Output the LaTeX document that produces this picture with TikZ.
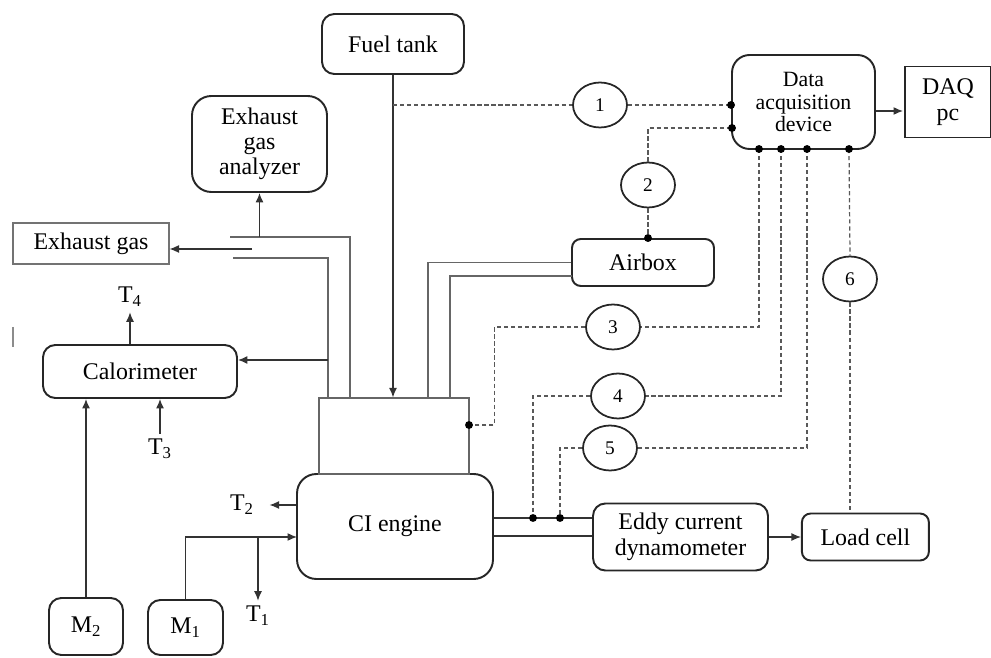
\documentclass[tikz,border=0pt]{standalone}
\usepackage{fontspec}
\setmainfont{Liberation Serif}
\usepackage{tikz}
\usetikzlibrary{arrows.meta,positioning,shapes.geometric}

\begin{document}
\begin{tikzpicture}[
    x=0.02cm, y=-0.02cm,
    node distance=5mm,
    device/.style={
        % The shape:
        rectangle,
        rounded corners=7pt,
        inner sep=0pt,
        align=center,
        % The line
        draw=black!85,
        line width=1.1pt,
        % The fonts
        font=\fontsize{13.6}{14.6}\selectfont},
    sensor/.style={
        ellipse,
        minimum width=1.08cm,
        minimum height=0.9cm,
        inner sep=0pt,
        draw=black!85,
        line width=1pt,
        font=\fontsize{11}{12}\selectfont},
    tlabel/.style={inner sep=3pt, font=\fontsize{13.6}{14}\selectfont},
    pipe/.style={draw=black!60, line width=0.7pt},
    arr/.style={draw=black!80, line width=0.7pt, -{Latex[length=1.9mm,width=1.6mm]}},
    sig/.style={draw=black!65, line width=0.7pt, dash pattern=on 2.4pt off 1.6pt},
    joint/.style={circle, fill=black, inner sep=0pt, minimum size=4.5pt}
  ]
  \useasboundingbox (0,0) rectangle (991,658);

  \node (fuel) [device, minimum width=2.84cm, minimum height=1.2cm] at (393,44) {Fuel tank};
  \node (analyzer) [device, rounded corners=11pt, minimum width=2.7cm, minimum height=1.92cm,
    font=\fontsize{13.6}{14.2}\selectfont] at (259.5,144) {Exhaust\\gas\\analyzer};
  \node (exgas) [device, rounded corners=0pt, draw=black!55, line width=0.6pt,
    minimum width=3.12cm, minimum height=0.82cm] at (91,243.5) {Exhaust gas};
  \node (calor) [device, minimum width=3.88cm, minimum height=1.06cm] at (140,371.5) {Calorimeter};
  \node (m2) [device, minimum width=1.48cm, minimum height=1.14cm] at (86,626.5) {M\textsubscript{2}};
  \node (m1) [device, minimum width=1.5cm, minimum height=1.1cm] at (185.5,627.5) {M\textsubscript{1}};
  \node (engine) [device, rounded corners=11pt, minimum width=3.92cm, minimum height=2.1cm] at (395,526.5) {CI engine};
  \node (head) [pipe, rectangle, inner sep=0pt, minimum width=3cm, minimum height=1.52cm] at (394,436) {};
  \node (airbox) [device, rounded corners=5pt, minimum width=2.84cm, minimum height=0.94cm] at (643,262.5) {Airbox};
  \node (daq) [device, rounded corners=10pt, minimum width=2.86cm, minimum height=1.88cm,
    font=\fontsize{12.4}{12.8}\selectfont] at (803.5,102) {Data\\acquisition\\device};
  \node (pc) [device, rounded corners=0pt, minimum width=1.72cm, minimum height=1.42cm,
    font=\fontsize{13.6}{14.8}\selectfont, right=0.56cm of daq] {DAQ\\pc};
  \node (eddy) [device, minimum width=3.5cm, minimum height=1.34cm] at (680.5,537) {Eddy current\\dynamometer};
  \node (load) [device, rounded corners=5pt, minimum width=2.54cm, minimum height=0.94cm,
    right=0.64cm of eddy] {Load cell};

  % numbered sensors
  \node (s1) [sensor] at (600,105) {1};
  \node (s2) [sensor] at (648,185) {2};
  \node (s3) [sensor] at (613,327) {3};
  \node (s4) [sensor] at (618,396) {4};
  \node (s5) [sensor] at (610,448) {5};
  \node (s6) [sensor] at (850,279) {6};

  \node (t4) [tlabel] at (130,297) {T\textsubscript{4}};
  \node (t3) [tlabel] at (160,449) {T\textsubscript{3}};
  \node (t2) [tlabel] at (242,505) {T\textsubscript{2}};
  \node (t1) [tlabel] at (258,616) {T\textsubscript{1}};

  \coordinate (p1) at (s1.east -| daq.west);
  \coordinate (p2) at (732,128);
  \coordinate (p3) at (759,149);
  \coordinate (p4) at (781,149);
  \coordinate (p5) at (807,149);
  \coordinate (p6) at (849,149);
  \coordinate (h3) at (469,425);
  \coordinate (k4) at (533,518);
  \coordinate (k5) at (560,518);
  \coordinate (lo) at (493,536);
  \coordinate (m1in) at (297,537);
  \coordinate (pcin) at (903,111);
  \coordinate (ex top) at (350,237);
  \coordinate (ex bot) at (328,258);
  \coordinate (stub) at (252,249);
  \coordinate (cal tap) at (328,360);

  % pipes
  \draw[pipe] (ex top |- head.north) |- (230,237);
  \draw[pipe] (ex bot |- head.north) |- (233,258);
  \draw[pipe] (airbox.west) -| (428,398);
  \draw[pipe] (572,276) -| (450,398);
  \draw[pipe, draw=black!80] (engine.east |- k4) -- (eddy.west |- k4);
  \draw[pipe, draw=black!80] (engine.east |- lo) -- (eddy.west |- lo);

  % arrows
  \draw[arr] (fuel.south) -- (fuel.south |- head.north);
  \draw[arr] (stub) -- (stub -| exgas.east);
  \draw[arr] (analyzer.south |- ex top) -- (analyzer.south);
  \draw[arr] (cal tap) -- (cal tap -| calor.east);
  \draw[arr] (calor.north -| t4) -- (t4.south);
  \draw[arr] (t3.north) -- (t3.north |- calor.south);
  \draw[arr] (m2.north) -- (m2.north |- calor.south);
  \draw[arr] (m1.north) |- (m1in);
  \draw[arr] (t1.north |- m1in) -- (t1.north);
  \draw[arr] (engine.west |- t2) -- ([xshift=0.2cm]t2.east);
  \draw[arr] (daq.east |- pcin) -- (pcin);
  \draw[arr] (eddy.east) -- (load.west);

  % signal lines
  \draw[sig] (fuel.south |- s1) -- (s1.west);
  \draw[sig] (s1.east) -- (p1);
  \draw[sig] (s2.north) |- (p2);
  \draw[sig] (s2.south) -- (s2.south |- airbox.north) node[joint] {};
  \draw[sig] (p3) |- (s3.east);
  \draw[sig] (s3.west) -- ++(-91,0) |- (h3);
  \draw[sig] (p4) |- (s4.east);
  \draw[sig] (s4.west) -| (k4);
  \draw[sig] (p5) |- (s5.east);
  \draw[sig] (s5.west) -| (k5);
  \draw[sig] (p6) -- (s6.north);
  \draw[sig] (s6.south) -- (s6.south |- load.north);
  \foreach \p in {p1,p2,p3,p4,p5,p6,h3,k4,k5}
    \node[joint] at (\p) {};

  \draw[black!45, line width=0.8pt] (13,327) -- (13,347);
\end{tikzpicture}
\end{document}
